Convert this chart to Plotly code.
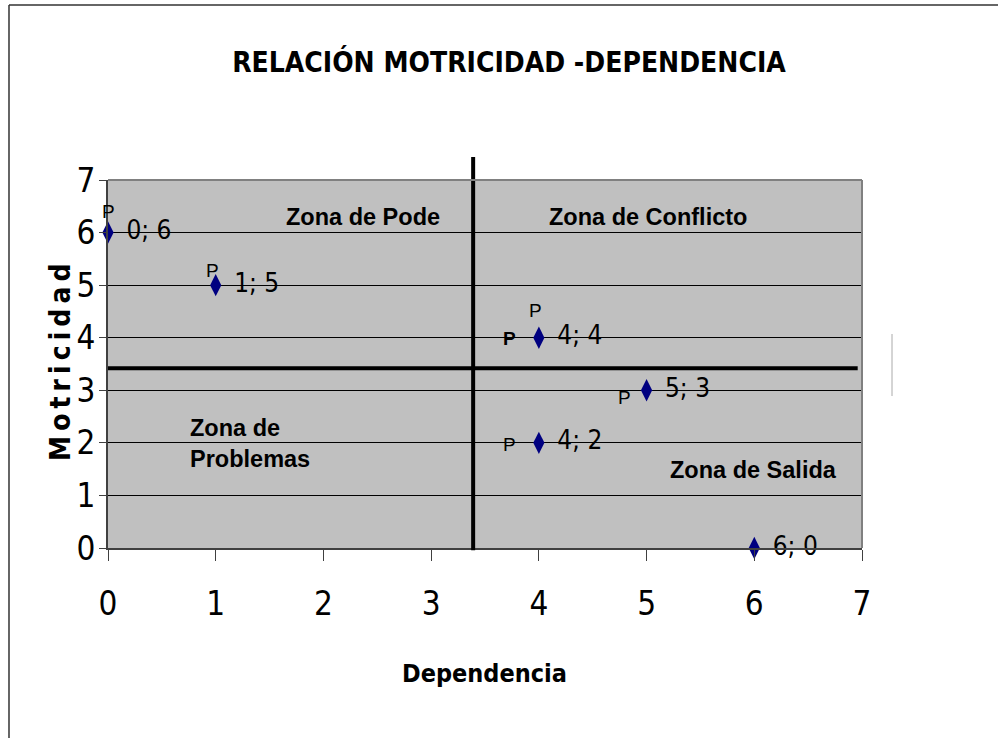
import plotly.graph_objects as go

# ---- data ----
dependencia = [0, 1, 4, 4, 5, 6]
motricidad = [6, 5, 4, 2, 3, 0]
point_labels = ["0; 6", "1; 5", "4; 4", "4; 2", "5; 3", "6; 0"]

# "P" markers placed next to some points (index of point, pixel offsets, bold?)
p_point_index = [0, 1, 2, 2, 4, 3]
p_offsets_x = [0, -3, -3, -29, -22, -29]
p_offsets_y = [21, 15, 27, -1, -7, -2]
p_bold = [False, False, False, True, False, False]

zone_texts = ["Zona de Pode", "Zona de Conflicto", "Zona de<br>Problemas", "Zona de Salida"]
zone_x = [2.37, 5.01, 0.74, 5.99]
zone_y = [6.29, 6.29, 1.98, 1.48]
zone_anchor = ["center", "center", "left", "center"]

quad_x = 3.39   # dependence split line
quad_y = 3.42   # motricity split line

x_ticks = [0, 1, 2, 3, 4, 5, 6, 7]
y_ticks = [0, 1, 2, 3, 4, 5, 6, 7]

NARROW = "DejaVu Sans Condensed, Liberation Sans Narrow, Liberation Sans"
SANS = "Liberation Sans, Arial, sans-serif"

fig = go.Figure()

fig.add_trace(go.Scatter(
    x=dependencia, y=motricidad,
    mode="markers+text",
    text=[" " + t for t in point_labels],
    textposition="middle right",
    textfont=dict(family=NARROW, size=26, color="black"),
    marker=dict(symbol="diamond-tall", size=16, color="#000080"),
    cliponaxis=False,
    showlegend=False,
    hoverinfo="skip",
))

annotations = []
for i, dx, dy, b in zip(p_point_index, p_offsets_x, p_offsets_y, p_bold):
    annotations.append(dict(
        x=dependencia[i], y=motricidad[i], xref="x", yref="y",
        text="<b>P</b>" if b else "P", showarrow=False,
        xshift=dx, yshift=dy,
        font=dict(family=SANS, size=19, color="black"),
    ))

for t, zx, zy, an in zip(zone_texts, zone_x, zone_y, zone_anchor):
    annotations.append(dict(
        x=zx, y=zy, xref="x", yref="y", text="<b>" + t + "</b>",
        showarrow=False, xanchor=an, yanchor="middle", align="left",
        font=dict(family=SANS, size=23.5, color="black"),
    ))

# axis titles
annotations.append(dict(
    x=0.4993, y=-0.34, xref="paper", yref="paper", text="<b>Dependencia</b>",
    showarrow=False, xanchor="center", yanchor="middle",
    font=dict(family=NARROW, size=25, color="black"),
))
annotations.append(dict(
    x=-0.064, y=0.505, xref="paper", yref="paper",
    text="<b>" + "\u2009".join("Motricidad") + "</b>", textangle=-90,
    showarrow=False, xanchor="center", yanchor="middle",
    font=dict(family=NARROW, size=28, color="black"),
))

shapes = [
    # quadrant lines (vertical one runs above the plot area)
    dict(type="line", xref="x", yref="paper", x0=quad_x, x1=quad_x, y0=-0.006, y1=1.0625,
         line=dict(color="black", width=4)),
    dict(type="line", xref="x", yref="y", x0=0, x1=6.96, y0=quad_y, y1=quad_y,
         line=dict(color="black", width=4)),
    # plot area top/right border
    dict(type="line", xref="paper", yref="paper", x0=0, x1=1, y0=1, y1=1,
         line=dict(color="#808080", width=2)),
    dict(type="line", xref="paper", yref="paper", x0=1, x1=1, y0=0, y1=1,
         line=dict(color="#808080", width=2)),
    # outer frame (left and top edges)
    dict(type="line", xref="paper", yref="paper", x0=-0.1313, x1=-0.1313, y0=1.4755, y1=-0.53,
         line=dict(color="#333333", width=1.5)),
    dict(type="line", xref="paper", yref="paper", x0=-0.1313, x1=1.2, y0=1.4755, y1=1.4755,
         line=dict(color="#333333", width=1.5)),
    # small gray stroke right of the plot
    dict(type="line", xref="paper", yref="paper", x0=1.0398, x1=1.0398, y0=0.5815, y1=0.413,
         line=dict(color="#aaaaaa", width=1)),
]

fig.update_layout(
    width=998, height=738,
    margin=dict(l=108, r=136, t=180, b=190),
    paper_bgcolor="white",
    plot_bgcolor="#c0c0c0",
    title=dict(
        text="<b>RELACIÓN MOTRICIDAD -DEPENDENCIA</b>",
        x=0.51, xref="container", xanchor="center",
        y=1 - 62 / 738, yref="container", yanchor="middle",
        font=dict(family=NARROW, size=28, color="black"),
    ),
    annotations=annotations,
    shapes=shapes,
    showlegend=False,
)

fig.update_xaxes(
    range=[0, 7], tickvals=x_ticks, ticktext=[str(v) for v in x_ticks],
    showgrid=False, zeroline=False,
    showline=True, linecolor="#404040", linewidth=2,
    ticks="outside", ticklen=11, tickcolor="#404040", tickwidth=1,
    ticklabelstandoff=14,
    tickfont=dict(family=NARROW, size=33, color="black"),
)
fig.update_yaxes(
    range=[0, 7], tickvals=y_ticks, ticktext=[str(v) for v in y_ticks],
    showgrid=True, gridcolor="black", gridwidth=1, zeroline=False,
    showline=True, linecolor="#404040", linewidth=2,
    ticks="outside", ticklen=7, tickcolor="#404040", tickwidth=1,
    ticklabelstandoff=-3,
    tickfont=dict(family=NARROW, size=33, color="black"),
)

fig.write_html("out.html", config={"displayModeBar": False},
               post_script="document.body.style.margin='0';")
